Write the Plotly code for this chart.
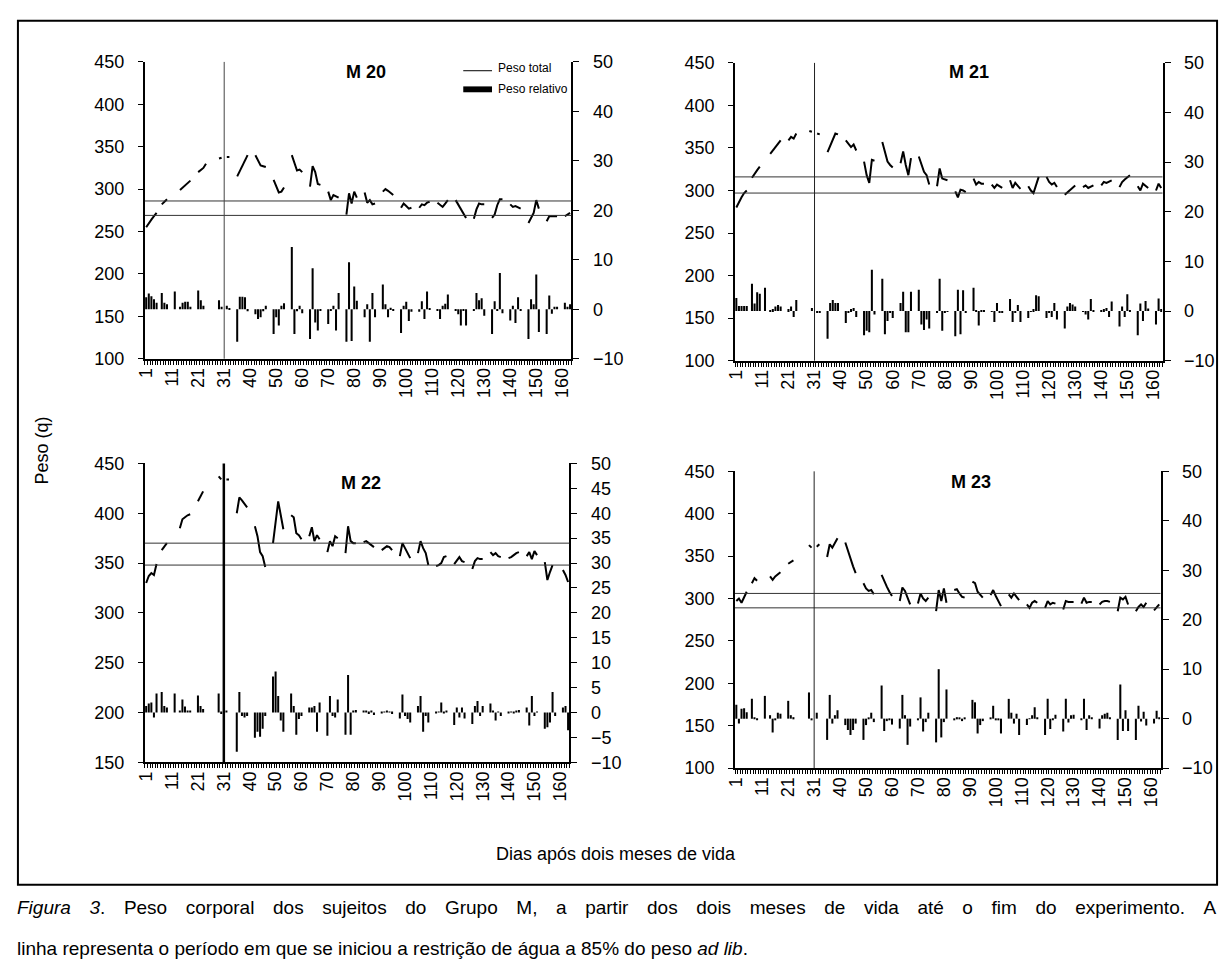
import plotly.graph_objects as go

_ = None
W, H = 1225, 974
FONT = "Liberation Sans, Arial, sans-serif"

# Day index on the category axis (164 days) and the labelled ticks
dias = list(range(164))
rotulo_pos = [0, 10, 20, 30, 40, 50, 60, 70, 80, 90, 100, 110, 120, 130, 140, 150, 160]
rotulo_txt = ["1", "11", "21", "31", "40", "50", "60", "70", "80", "90",
              "100", "110", "120", "130", "140", "150", "160"]

# ---- M 20 ----
m20_peso = [
    255, 260, 264, 268, 272, _, 282,
    285, 288, _, _, 294, _, 299,
    302, 305, 307, 310, _, _, 320,
    322, 325, 330, _, _, _, _,
    336, 337, _, 338, 338, _, _,
    315, 321, 328, 334, 340, _, _,
    340, 334, 328, 327, 326, _, _,
    311, 304, 296, 297, 302, _, _,
    340, 331, 322, 323, 320, _, _,
    303, 327, 320, 306, 305, _, _,
    297, 287, 293, 291, 290, _, _,
    270, 295, 283, 297, 290, _, _,
    296, 284, 287, 282, 283, _, _,
    297, 300, 298, 295, 293, _, _,
    278, 283, 280, 277, 278, _, _,
    278, 282, 281, 284, 285, _, _,
    284, 281, 279, 283, 287, _, _,
    287, 282, 277, 271, 266, _, _,
    265, 276, 283, 282, 282, _, _,
    266, 270, 281, 288, 288, _, _,
    282, 279, 280, 278, 277, _, _,
    260, 266, 272, 287, 277, _, _,
    262, 268, 268, 268, 268, _, _,
    268, 270, 272,
]
m20_rel = [
    2.4, 3.2, 2.6, 2.0, 1.3, _, 3.3,
    1.3, 1.0, _, _, 3.6, _, 0.5,
    1.3, 1.5, 1.5, 0.5, _, _, 3.8,
    1.8, 0.7, _, _, _, _, _,
    1.8, 0.5, _, 0.7, 0.2, _, _,
    -6.6, 2.5, 2.5, 2.4, -0.4, _, _,
    -1.0, -2.0, -1.6, -0.4, 0.7, _, _,
    -5.0, -1.6, -3.3, 0.7, 1.2, _, _,
    12.6, -5.0, -0.4, 0.7, -0.8, _, _,
    -6.0, 8.3, -2.7, -4.3, -0.2, _, _,
    -3.0, -0.3, 0.7, -4.3, 3.3, _, _,
    -6.6, 9.5, -6.4, 4.6, 1.7, _, _,
    -1.6, 1.0, -6.6, 3.3, -1.6, _, _,
    5.0, 1.0, -1.6, 0.3, -0.2, _, _,
    -4.8, 0.7, 1.5, -2.4, -0.5, _, _,
    -0.5, 1.6, -2.0, 3.6, 0.2, _, _,
    -0.2, -2.0, 0.7, 1.1, 3.0, _, _,
    -0.2, -1.0, -3.3, -0.3, -3.3, _, _,
    -0.2, 3.3, 1.8, 2.2, -1.3, _, _,
    -5.0, 1.6, -0.2, 7.3, -0.8, _, _,
    -2.3, 0.7, -2.8, 2.4, -0.2, _, _,
    -6.0, 2.0, 1.0, 7.0, -4.6, _, _,
    -5.0, 2.8, -0.9, 0.5, 0.5, _, _,
    1.3, 0.5, 1.0,
]

# ---- M 21 ----
m21_peso = [
    280, 287, 292, 297, 300, _, 315,
    320, 324, 328, _, 335, _, 343,
    347, 351, 355, 359, _, _, 359,
    363, 361, 367, _, _, _, _,
    370, 369, _, 367, 366, _, _,
    345, 352, 360, 367, 366, _, _,
    359, 355, 351, 354, 347, _, _,
    334, 318, 309, 336, 335, _, _,
    357, 345, 334, 330, 327, _, _,
    332, 346, 330, 318, 338, _, _,
    340, 330, 322, 318, 307, _, _,
    305, 326, 314, 313, 312, _, _,
    299, 292, 301, 300, 298, _, _,
    314, 307, 310, 308, 308, _, _,
    307, 303, 307, 305, 303, _, _,
    312, 303, 309, 305, 302, _, _,
    305, 300, 297, 307, 316, _, _,
    316, 310, 307, 309, 304, _, _,
    295, 298, 301, 304, 306, _, _,
    304, 306, 303, 305, 306, _, _,
    306, 310, 309, 311, 312, _, _,
    304, 310, 313, 316, 318, _, _,
    305, 300, 308, 306, 303, _, _,
    300, 308, 303,
]
m21_rel = [
    2.6, 1.0, 1.0, 1.0, 1.0, _, 5.5,
    1.5, 3.8, 3.5, _, 4.7, _, 0.1,
    0.4, 0.9, 1.2, 0.9, _, _, 0.4,
    0.9, -1.2, 2.2, _, _, _, _,
    _, 0.6, _, -0.4, -0.4, _, _,
    -5.6, 1.6, 2.2, 1.6, 1.6, _, _,
    -2.4, -0.4, 0.4, 0.6, -1.2, _, _,
    -4.9, -4.0, -4.3, 8.3, -0.7, _, _,
    6.5, -4.7, -2.0, -0.3, -1.4, _, _,
    1.6, 3.9, -4.3, -4.3, 3.9, _, _,
    4.3, -2.7, -3.8, -1.7, -3.5, _, _,
    -0.4, 6.5, -4.0, -0.3, -0.1, _, _,
    -5.1, 4.3, -4.7, 4.2, -0.3, _, _,
    4.7, 0.1, -2.9, 0.1, 0.1, _, _,
    -0.1, -2.2, 1.6, -0.4, -0.3, _, _,
    2.4, -2.2, -0.3, 1.2, -2.2, _, _,
    -1.4, -0.1, 0.4, 3.2, 3.0, _, _,
    -1.4, -0.4, -1.2, 1.6, -1.7, _, _,
    -3.5, 0.9, 1.6, 1.3, 0.9, _, _,
    -0.1, -0.7, -1.7, 2.4, 0.1, _, _,
    0.1, 0.4, 0.6, -1.2, 1.9, _, _,
    -3.1, 0.9, -1.2, 3.4, 0.1, _, _,
    -4.9, 1.5, -2.0, 2.0, 0.5, _, _,
    -2.7, 2.5, 0.4,
]

# ---- M 22 ----
m22_peso = [
    330, 337, 340, 338, 349, _, 363,
    366, 370, _, _, 380, _, 385,
    394, 396, 398, 399, _, _, 412,
    417, 422, _, _, _, _, _,
    437, 434, _, 434, 434, _, _,
    400, 416, 413, 409, 406, _, _,
    387, 377, 361, 357, 346, _, _,
    370, 392, 412, 398, 384, _, _,
    398, 396, 380, 378, 374, _, _,
    377, 386, 372, 378, 374, _, _,
    361, 372, 367, 377, 375, _, _,
    360, 387, 372, 370, 370, _, _,
    371, 372, 370, 368, 366, _, _,
    363, 365, 367, 366, 363, _, _,
    357, 370, 365, 360, 355, _, _,
    360, 372, 365, 360, 348, _, _,
    347, 348, 350, 356, 357, _, _,
    349, 352, 356, 352, 351, _, _,
    344, 352, 355, 354, 354, _, _,
    361, 358, 360, 357, 356, _, _,
    355, 356, 358, 360, 361, _, _,
    357, 361, 354, 362, 358, _, _,
    351, 333, 341, 348, _, _, _,
    343, 338, 331,
]
m22_rel = [
    1.3, 1.8, 2.0, -1.0, 3.8, _, 4.1,
    1.3, 1.0, _, _, 3.8, _, 0.3,
    2.6, 1.2, 0.3, 0.3, _, _, 3.4,
    1.3, 0.7, _, _, _, _, _,
    3.8, -0.3, _, 0.2, _, _, _,
    -7.9, 4.1, -0.7, -1.0, -0.7, _, _,
    -5.1, -3.9, -4.9, -3.3, -0.7, _, _,
    7.2, 8.2, 3.3, -1.6, -3.9, _, _,
    3.8, 1.3, -4.5, -1.3, -0.7, _, _,
    1.0, 1.0, 1.3, -3.9, 2.0, _, _,
    -4.7, 3.3, -0.7, -1.0, 2.6, _, _,
    -4.5, 7.5, -4.5, 0.3, 0.5, _, _,
    0.2, 0.4, -0.3, 0.2, -0.5, _, _,
    -0.1, 0.1, 0.3, 0.1, -0.3, _, _,
    -1.2, 3.6, -0.7, -1.3, -2.0, _, _,
    1.3, 3.3, -3.9, -0.7, -2.0, _, _,
    -0.1, 0.1, 2.0, -0.1, 0.3, _, _,
    -2.5, 1.0, -1.0, 1.0, -1.2, _, _,
    -2.3, 1.3, 2.3, -0.7, 1.3, _, _,
    1.8, 0.3, -1.6, 0.1, -0.7, _, _,
    -0.1, 0.1, -0.1, 0.3, 0.5, _, _,
    1.0, -2.6, 3.3, -0.7, 0.1, _, _,
    -3.3, -3.0, -2.0, 4.1, -0.7, _, _,
    1.0, 1.3, -3.6,
]

# ---- M 23 ----
m23_peso = [
    297, 300, 295, 301, 308, _, 318,
    324, 321, _, _, 323, _, 326,
    322, 326, 329, 331, _, _, 341,
    343, 345, _, _, _, _, _,
    363, 360, _, 361, 364, _, _,
    349, 364, 360, 366, 371, _, _,
    366, 356, 347, 338, 330, _, _,
    318, 312, 309, 310, 305, _, _,
    328, 320, 314, 308, 303, _, _,
    297, 313, 309, 300, 293, _, _,
    294, 306, 300, 297, 301, _, _,
    285, 310, 297, 312, 295, _, _,
    310, 311, 306, 302, 301, _, _,
    320, 318, 308, 304, 301, _, _,
    304, 310, 303, 297, 291, _, _,
    305, 301, 306, 302, 298, _, _,
    293, 289, 295, 297, 295, _, _,
    289, 297, 293, 295, 294, _, _,
    287, 297, 296, 296, 296, _, _,
    294, 301, 295, 296, 296, _, _,
    293, 296, 297, 297, 296, _, _,
    285, 301, 299, 302, 293, _, _,
    285, 290, 293, 290, 295, _, _,
    286, 290, 293,
]
m23_rel = [
    2.8, -1.0, 2.0, 2.1, 1.3, _, 4.0,
    0.3, -0.3, _, _, 4.6, _, 0.7,
    -2.8, -0.3, 1.2, 1.0, _, _, 3.6,
    0.7, 0.3, _, _, _, _, _,
    5.3, -0.3, _, 1.2, _, _, _,
    -4.3, 4.8, -1.0, 0.7, 1.7, _, _,
    -1.3, -2.3, -3.3, -2.3, -1.0, _, _,
    -4.3, -1.3, 0.1, 1.2, -0.7, _, _,
    6.7, -2.5, -0.5, -0.3, -1.2, _, _,
    -2.0, 4.8, 0.7, -5.3, -1.6, _, _,
    -0.3, 4.3, -2.6, -0.7, 1.2, _, _,
    -4.8, 10.0, -3.8, -0.7, 5.9, _, _,
    -0.3, 0.3, 0.1, -0.5, 0.1, _, _,
    3.8, 3.3, -3.0, -1.3, -0.5, _, _,
    0.1, 2.6, -0.3, -0.3, -3.0, _, _,
    4.0, 1.2, -1.0, 1.0, -3.3, _, _,
    -1.3, -0.1, 0.7, 2.3, 0.3, _, _,
    -3.3, 4.0, -2.1, -0.3, 0.8, _, _,
    -2.6, 4.0, -0.8, 0.7, 0.8, _, _,
    -0.3, 4.0, -2.3, 0.7, 0.1, _, _,
    -2.0, 0.7, 1.0, 1.2, 0.3, _, _,
    -4.3, 6.9, -2.5, 1.7, -2.5, _, _,
    -4.3, 2.6, -0.6, 1.4, -1.4, _, _,
    -1.0, 1.6, 0.3,
]

# Band lines (limits of the restricted weight) for each subject
faixa_sup = [286, 316, 370, 306]
faixa_inf = [269, 297, 348, 289]
inicio_restricao = 30  # index of day "31"

titulos = ["M 20", "M 21", "M 22", "M 23"]
pesos = [m20_peso, m21_peso, m22_peso, m23_peso]
relativos = [m20_rel, m21_rel, m22_rel, m23_rel]
faixa_esq = [(100, 450), (100, 450), (150, 450), (100, 450)]
passo_dir = [10, 10, 5, 10]

# Plot boxes in pixels: (left, right, top, bottom)
caixas = [(137, 567, 53, 356), (732, 1163, 54, 358),
          (137, 565, 463, 768), (732, 1161, 471, 774)]
titulo_pos = [(360, 63), (968, 63), (355, 483), (970, 482)]
largura_vert = [1, 1, 2.5, 1]
cor_vert = ["#444444", "#222222", "black", "#222222"]

legenda_1 = ("<i>Figura 3</i>. Peso corporal dos sujeitos do Grupo M, a partir dos dois "
             "meses de vida até o fim do experimento. A")
legenda_2 = ("linha representa o período em que se iniciou a restrição de água a 85% "
             "do peso <i>ad lib</i>.")


def fx(p):
    return p / W


def fy(p):
    return 1 - p / H


def justificar(texto, espaco):
    """Widen every word gap of a caption line by the same amount."""
    return texto.replace(" ", " " + espaco)


fig = go.Figure()
layout = {}
shapes = []
annotations = []

for k in range(4):
    xa = "x" if k == 0 else f"x{k + 1}"
    yl_i, yr_i = 2 * k + 1, 2 * k + 2
    yl = "y" if yl_i == 1 else f"y{yl_i}"
    yr = f"y{yr_i}"
    left, right, top, bottom = caixas[k]

    fig.add_trace(go.Scatter(
        x=dias, y=pesos[k], mode="lines", connectgaps=False,
        line=dict(color="black", width=2), xaxis=xa, yaxis=yl,
        name="Peso total", hoverinfo="skip"))
    fig.add_trace(go.Bar(
        x=dias, y=relativos[k], width=0.78, marker=dict(color="black", line=dict(width=0)),
        xaxis=xa, yaxis=yr, name="Peso relativo", hoverinfo="skip"))

    layout["xaxis" if k == 0 else f"xaxis{k + 1}"] = dict(
        domain=[fx(left), fx(right)], anchor=yl, range=[-0.5, 163.5],
        tickmode="array", tickvals=rotulo_pos, ticktext=rotulo_txt,
        tickangle=-90, ticks="", showgrid=False, zeroline=False,
        showline=True, linecolor="black", linewidth=2,
        tickfont=dict(family=FONT, size=18, color="black"),
        minor=dict(tickmode="linear", tick0=-0.5, dtick=1, ticks="outside",
                   ticklen=4, tickwidth=1, tickcolor="black", showgrid=False),
    )
    lo, hi = faixa_esq[k]
    layout["yaxis" if yl_i == 1 else f"yaxis{yl_i}"] = dict(
        domain=[fy(bottom), fy(top)], anchor=xa, range=[lo, hi],
        tickmode="linear", tick0=lo, dtick=50, ticks="outside", ticklen=5,
        tickcolor="black", showgrid=False, zeroline=False,
        showline=True, linecolor="black", linewidth=2,
        tickfont=dict(family=FONT, size=18, color="black"),
        ticklabelstandoff=10,
    )
    layout[f"yaxis{yr_i}"] = dict(
        domain=[fy(bottom), fy(top)], anchor=xa, overlaying=yl, side="right",
        range=[-10, 50], tickmode="linear", tick0=-10, dtick=passo_dir[k],
        ticks="outside", ticklen=6, tickcolor="black", showgrid=False,
        zeroline=False, showline=True, linecolor="black", linewidth=2,
        tickfont=dict(family=FONT, size=18, color="black"),
        ticklabelstandoff=10,
    )

    # band lines
    for v in (faixa_sup[k], faixa_inf[k]):
        shapes.append(dict(type="line", xref=f"{xa} domain", yref=yl,
                           x0=0, x1=1, y0=v, y1=v,
                           line=dict(color="#333333", width=1)))
    # start of water restriction
    shapes.append(dict(type="line", xref=xa, yref=f"{yl} domain",
                       x0=inicio_restricao, x1=inicio_restricao, y0=0, y1=1,
                       line=dict(color=cor_vert[k], width=largura_vert[k])))

    tx, ty = titulo_pos[k]
    annotations.append(dict(text=f"<b>{titulos[k]}</b>", x=fx(tx), y=fy(ty),
                            xref="paper", yref="paper", showarrow=False,
                            xanchor="center", yanchor="middle",
                            font=dict(family=FONT, size=18, color="black")))

# Legend drawn inside the first panel
shapes.append(dict(type="line", xref="paper", yref="paper", x0=fx(458), x1=fx(487),
                   y0=fy(62), y1=fy(62), line=dict(color="black", width=1)))
shapes.append(dict(type="rect", xref="paper", yref="paper", x0=fx(458), x1=fx(487),
                   y0=fy(84), y1=fy(78), fillcolor="black", line=dict(width=0)))
annotations.append(dict(text="Peso total", x=fx(491), y=fy(59), xref="paper", yref="paper",
                        showarrow=False, xanchor="left", yanchor="middle",
                        font=dict(family=FONT, size=12, color="black")))
annotations.append(dict(text="Peso relativo", x=fx(491), y=fy(81), xref="paper", yref="paper",
                        showarrow=False, xanchor="left", yanchor="middle",
                        font=dict(family=FONT, size=12, color="black")))

# Outer frame
shapes.append(dict(type="rect", xref="paper", yref="paper", x0=fx(9), x1=fx(1218),
                   y0=fy(893), y1=fy(11), line=dict(color="black", width=2)))

annotations.append(dict(text="Peso (q)", x=fx(33), y=fy(450), xref="paper", yref="paper",
                        textangle=-90, showarrow=False, xanchor="center", yanchor="middle",
                        font=dict(family=FONT, size=18, color="black")))
annotations.append(dict(text="Dias após dois meses de vida", x=fx(612), y=fy(862),
                        xref="paper", yref="paper", showarrow=False,
                        xanchor="center", yanchor="middle",
                        font=dict(family=FONT, size=18, color="black")))
annotations.append(dict(
    text=justificar(legenda_1, "\u2002\u2009"),
    x=fx(6), y=fy(916), xref="paper", yref="paper", showarrow=False,
    xanchor="left", yanchor="middle", font=dict(family=FONT, size=19, color="black")))
annotations.append(dict(
    text=legenda_2,
    x=fx(6), y=fy(958), xref="paper", yref="paper", showarrow=False,
    xanchor="left", yanchor="middle", font=dict(family=FONT, size=19, color="black")))

fig.update_layout(
    width=W, height=H, margin=dict(l=0, r=0, t=0, b=0),
    paper_bgcolor="white", plot_bgcolor="white",
    showlegend=False, barmode="overlay",
    font=dict(family=FONT, color="black"),
    shapes=shapes, annotations=annotations, **layout)

fig.write_html("out.html")
